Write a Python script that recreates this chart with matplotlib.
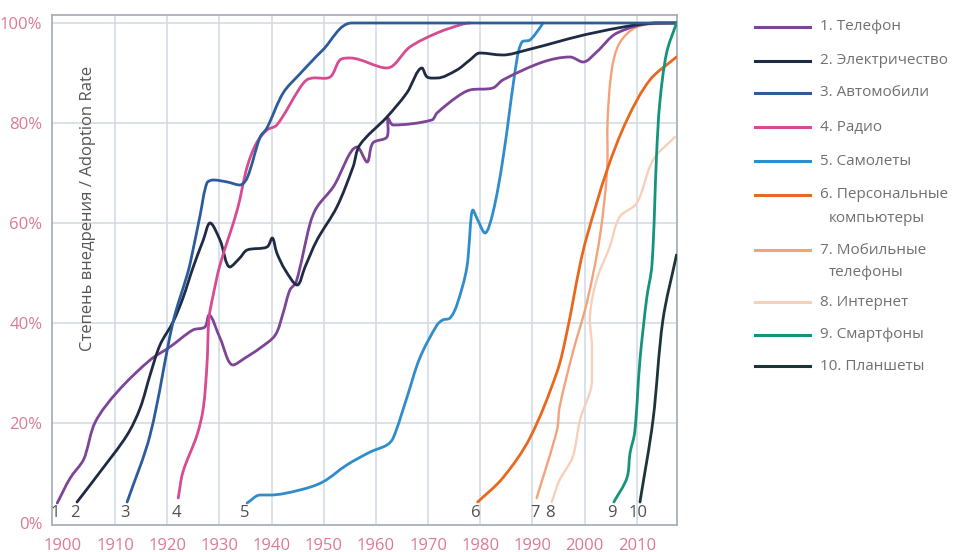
import math
import matplotlib.pyplot as plt
from matplotlib.lines import Line2D
from matplotlib.path import Path
from matplotlib.patches import PathPatch

plt.rcParams['font.family'] = ['Open Sans', 'DejaVu Sans']

# adoption curves: year / share of households (%)
tel_years = [1898.9, 1901.4, 1903.7, 1904.3, 1906.2, 1910.4, 1916.7, 1920.5, 1924.9, 1927.2,
             1928.0, 1930.1, 1932.6, 1934.9, 1937.8, 1940.7, 1942.2, 1943.5, 1944.7, 1947.4,
             1948.7, 1951.8, 1956.4, 1958.3, 1959.4, 1962.1, 1962.3, 1963.3, 1970.7, 1971.7,
             1975.5, 1978.0, 1982.4, 1984.3, 1992.0, 1997.2, 1999.7, 2002.3, 2006.2, 2013.8, 2017.6]
tel_rate = [4.0, 9.0, 12.2, 13.6, 20.2, 26.2, 32.6, 35.2, 38.6, 39.2,
            41.6, 37.0, 31.6, 33.0, 35.0, 37.6, 42.0, 46.6, 48.2, 60.0,
            63.2, 67.2, 75.2, 72.2, 76.0, 77.2, 81.0, 79.6, 80.6, 82.0,
            85.2, 86.6, 87.0, 88.6, 92.2, 93.2, 92.2, 94.2, 98.0, 100.0, 100.0]

elec_years = [1902.7, 1907.1, 1912.3, 1914.8, 1916.7, 1918.6, 1921.1, 1923.0, 1924.9, 1926.9,
              1928.2, 1930.1, 1932.0, 1933.9, 1935.3, 1939.1, 1940.1, 1941.0, 1942.6, 1944.9,
              1946.4, 1948.7, 1952.5, 1955.6, 1956.9, 1962.1, 1965.9, 1968.8, 1969.8, 1971.7,
              1975.5, 1978.0, 1979.9, 1984.3, 1988.9, 2001.6, 2014.4, 2017.6]
elec_rate = [4.2, 10.2, 17.6, 23.0, 29.6, 35.6, 40.2, 45.0, 51.0, 56.6,
             60.0, 56.6, 51.2, 53.0, 54.6, 55.2, 57.0, 54.0, 50.6, 47.6,
             51.2, 56.6, 63.2, 71.2, 75.6, 81.2, 86.0, 91.0, 89.2, 89.0,
             90.6, 92.6, 94.0, 93.6, 94.6, 98.0, 100.0, 100.0]

car_years = [1912.3, 1916.7, 1921.1, 1923.8, 1924.4, 1926.3, 1927.6, 1928.8, 1931.5, 1933.9,
             1935.3, 1937.8, 1939.1, 1942.2, 1945.4, 1949.8, 1955.4, 2017.6]
car_rate = [4.2, 17.6, 40.2, 49.6, 52.0, 61.6, 68.0, 68.6, 68.2, 67.6,
            69.0, 77.2, 79.0, 86.0, 89.8, 94.6, 100.0, 100.0]

radio_years = [1922.1, 1923.0, 1925.7, 1926.9, 1927.6, 1928.0, 1928.8, 1930.1, 1933.4, 1935.3,
               1937.1, 1939.1, 1941.0, 1945.4, 1946.7, 1947.9, 1951.2, 1953.1, 1955.0, 1962.1,
               1966.5, 1971.7, 1976.7, 1978.0]
radio_rate = [5.0, 10.2, 17.6, 23.0, 31.6, 41.0, 45.6, 51.6, 62.6, 71.2,
              76.0, 78.6, 79.6, 87.0, 88.6, 89.0, 89.2, 92.6, 93.0, 91.0,
              95.2, 98.0, 99.8, 100.0]

plane_years = [1935.3, 1937.8, 1939.7, 1945.4, 1949.8, 1954.4, 1958.9, 1962.1, 1963.3, 1965.9,
               1968.4, 1971.7, 1972.8, 1974.2, 1975.5, 1977.4, 1978.6, 1979.5, 1980.9,
               1982.4, 1984.3, 1987.0, 1988.0, 1989.5, 1991.4, 1992.0]
plane_rate = [4.0, 5.6, 5.6, 6.6, 8.2, 11.6, 14.2, 15.6, 17.0, 25.0,
              33.0, 39.6, 40.6, 41.0, 43.6, 51.0, 62.6, 60.6, 58.0,
              62.0, 72.6, 92.6, 96.2, 96.6, 99.0, 100.0]

pc_years = [1979.5, 1984.3, 1989.5, 1994.7, 1996.6, 1999.1, 2000.4, 2004.3, 2008.1, 2012.5, 2017.6]
pc_rate = [4.2, 9.0, 17.0, 30.2, 38.2, 51.6, 57.2, 70.6, 80.6, 88.6, 93.2]

mobile_years = [1990.8, 1994.7, 1995.2, 1997.7, 2000.4, 2002.9, 2004.3, 2004.4, 2005.2, 2006.7,
                2010.0, 2016.3]
mobile_rate = [5.0, 18.6, 23.2, 34.0, 44.0, 57.2, 70.6, 80.6, 90.6, 96.0,
               99.2, 100.0]

web_years = [1993.7, 1995.2, 1997.7, 1999.1, 2001.4, 2001.4, 2001.0, 2002.3, 2004.8, 2006.7,
             2010.0, 2013.1, 2017.3]
web_rate = [4.2, 8.6, 13.2, 20.6, 28.6, 35.2, 40.6, 48.6, 55.2, 61.2,
            64.0, 72.6, 77.2]

smart_years = [2005.6, 2008.1, 2008.7, 2009.6, 2010.6, 2011.9, 2012.9, 2013.8, 2014.4, 2015.7, 2017.6]
smart_rate = [4.2, 9.0, 14.0, 18.2, 32.6, 45.0, 51.6, 74.0, 84.0, 94.0, 100.0]

tablet_years = [2010.6, 2013.1, 2015.0, 2017.6]
tablet_rate = [4.2, 20.6, 40.6, 53.6]

names = ["1. Телефон", "2. Электричество", "3. Автомобили", "4. Радио", "5. Самолеты",
         "6. Персональные\nкомпьютеры", "7. Мобильные\nтелефоны", "8. Интернет",
         "9. Смартфоны", "10. Планшеты"]
colors = ["#7d4497", "#1f2a45", "#2c5c9c", "#d64b92", "#2f8dcb",
          "#e9681f", "#f2a37c", "#f8cfbb", "#16937b", "#1c3538"]
widths = [2, 2, 2, 2, 2, 2, 1.7, 1.7, 2, 2]

series = [(tel_years, tel_rate), (elec_years, elec_rate), (car_years, car_rate),
          (radio_years, radio_rate), (plane_years, plane_rate), (pc_years, pc_rate),
          (mobile_years, mobile_rate), (web_years, web_rate), (smart_years, smart_rate),
          (tablet_years, tablet_rate)]

decades = list(range(1900, 2011, 10))
pct_ticks = [0, 20, 40, 60, 80, 100]


def smooth_path(xs, ys, sx=5.22, sy=5.0):
    # chord-length hermite curve through the points, as cubic bezier segments;
    # tangents are flattened at local extremes so nothing overshoots
    n = len(xs)
    d = [math.hypot((xs[i + 1] - xs[i]) * sx, (ys[i + 1] - ys[i]) * sy) or 1e-6
         for i in range(n - 1)]
    tx, ty = [], []
    for i in range(n):
        if i == 0:
            mx, my = (xs[1] - xs[0]) / d[0], (ys[1] - ys[0]) / d[0]
        elif i == n - 1:
            mx, my = (xs[-1] - xs[-2]) / d[-1], (ys[-1] - ys[-2]) / d[-1]
        else:
            s = d[i - 1] + d[i]
            mx, my = (xs[i + 1] - xs[i - 1]) / s, (ys[i + 1] - ys[i - 1]) / s
            if (xs[i] - xs[i - 1]) * (xs[i + 1] - xs[i]) <= 0:
                mx = 0.0
            if (ys[i] - ys[i - 1]) * (ys[i + 1] - ys[i]) <= 0:
                my = 0.0
        tx.append(mx)
        ty.append(my)
    verts = [(xs[0], ys[0])]
    codes = [Path.MOVETO]
    for i in range(n - 1):
        h = d[i] / 3
        verts += [(xs[i] + tx[i] * h, ys[i] + ty[i] * h),
                  (xs[i + 1] - tx[i + 1] * h, ys[i + 1] - ty[i + 1] * h),
                  (xs[i + 1], ys[i + 1])]
        codes += [Path.CURVE4] * 3
    return Path(verts, codes)


fig = plt.figure(figsize=(9.58, 5.52), dpi=100)
ax = fig.add_axes([52 / 958, 27 / 552, 625 / 958, 510 / 552])
ax.set_xlim(1897.9, 2017.7)
ax.set_ylim(-0.4, 101.6)

grid_col = "#d4dbe4"
for yr in decades[1:]:
    ax.axvline(yr, color=grid_col, lw=1.2, zorder=0)
for p in pct_ticks[1:]:
    ax.axhline(p, color=grid_col, lw=1.2, zorder=0)

# draw so that the top lines (cars) end up over radio at 100%
order = [7, 6, 5, 4, 0, 1, 3, 2, 8, 9]
for k, i in enumerate(order):
    xs, ys = series[i]
    patch = PathPatch(smooth_path(xs, ys), facecolor="none", edgecolor=colors[i],
                      lw=widths[i], capstyle="round", joinstyle="round", zorder=3 + k)
    ax.add_patch(patch)

# series numbers along the bottom
for i, (xs, ys) in enumerate(series):
    ax.text(xs[0] - 0.4, 2.0, str(i + 1), ha="center", va="center",
            fontsize=12, color="#505050", zorder=20)

ax.set_xticks(decades)
ax.set_xticklabels([str(d) for d in decades])
ax.set_yticks(pct_ticks)
ax.set_yticklabels([f"{p}%" for p in pct_ticks])
ax.tick_params(axis="both", length=0, labelsize=12, labelcolor="#dc7a93")
ax.tick_params(axis="x", pad=9)
ax.tick_params(axis="y", pad=7)
for s in ax.spines.values():
    s.set_color("#a7b0ba")
    s.set_linewidth(1.3)

ax.text(0.058, 0.62, "Степень внедрения / Adoption Rate", transform=ax.transAxes,
        rotation=90, ha="center", va="center", fontsize=12, color="#555555")

# legend on the right
row_y = [27, 61, 93, 127, 161, 195, 250, 302, 335, 366]
for i, name in enumerate(names):
    yf = 1 - row_y[i] / 552
    fig.add_artist(Line2D([755 / 958, 810 / 958], [yf, yf], transform=fig.transFigure,
                          color=colors[i], lw=2.2))
    lines = name.split("\n")
    fig.text(820 / 958, yf, lines[0], ha="left", va="center", fontsize=11, color="#707070")
    if len(lines) > 1:
        fig.text(829 / 958, yf - 23 / 552, lines[1], ha="left", va="center",
                 fontsize=11, color="#707070")

fig.savefig("out.png", dpi=100)
